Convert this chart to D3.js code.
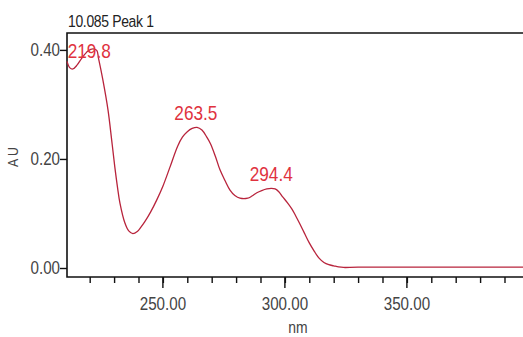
<!DOCTYPE html>
<html>
<head>
<meta charset="utf-8">
<script src="https://cdn.jsdelivr.net/npm/d3@7"></script>
<style>
  body { margin: 0; background: #fff; overflow: hidden; }
  svg { display: block; }
  text { font-family: "Liberation Sans", Arial, sans-serif; }
</style>
</head>
<body>
<svg width="523" height="337"></svg>
<script>
// spectrum (wavelength nm, absorbance AU)
const wavelengths = [210.7, 211.9, 213.1, 214.8, 216.8, 219.3, 221.3, 222.9, 223.6, 225.4, 227.5, 229, 230.3, 231.4, 232.4, 234.4, 236, 237.7, 239.5, 241, 242.6, 245, 247.5, 250, 252.9, 256, 258, 260, 262, 264, 266, 268, 269.5, 271.5, 273.4, 275.5, 277.5, 279.5, 281.6, 284.8, 286.5, 288.5, 290.5, 292.6, 294.4, 296, 297.5, 299, 301, 302.9, 304.5, 306, 308, 310, 312, 314, 316, 318, 320, 322, 324, 330, 400];
const absorbance = [0.379, 0.367, 0.365, 0.372, 0.385, 0.398, 0.402, 0.399, 0.385, 0.345, 0.290, 0.235, 0.185, 0.148, 0.119, 0.083, 0.068, 0.063, 0.067, 0.075, 0.085, 0.103, 0.125, 0.150, 0.185, 0.223, 0.240, 0.250, 0.256, 0.258, 0.253, 0.240, 0.228, 0.205, 0.180, 0.160, 0.143, 0.133, 0.128, 0.128, 0.132, 0.138, 0.142, 0.145, 0.146, 0.145, 0.140, 0.131, 0.120, 0.108, 0.095, 0.082, 0.064, 0.046, 0.031, 0.018, 0.010, 0.006, 0.004, 0.002, 0.001, 0.0015, 0.0015];

// peak annotations
const peakNm = [219.8, 263.5, 294.4];
const peakAu = [0.402, 0.258, 0.146];

// axis ticks
const xMajor = [250, 300, 350];
const xMinor = d3.range(220, 400, 10);
const yMajor = [0, 0.2, 0.4];
const yMinor = [0.05, 0.1, 0.15, 0.25, 0.3, 0.35];

const title = "10.085 Peak 1";
const xTitle = "nm";
const yTitle = "A U";

// no narrow font installed, so squeeze the regular one
const SQUEEZE = 0.82;

function narrow(sel, px, py, rot){
  sel.attr("x", 0).attr("y", 0)
    .attr("transform", (d, i) => `translate(${px(d, i)},${py(d, i)})${rot ? " rotate(" + rot + ")" : ""} scale(${SQUEEZE},1)`);
  return sel;
}

function main(){
  const svg = d3.select("svg");
  const left = 67, top = 33, bottom = 277;

  // x runs past the right edge of the window, like the crop in the original
  const x = d3.scaleLinear().domain([210.7, 400]).range([left, left + 189.3 * 2.44]);
  const y = d3.scaleLinear().domain([-0.0165, 0.431]).range([bottom, top]);

  // frame (top, left, bottom)
  svg.append("path")
    .attr("d", `M${x(400)},${top}H${left}V${bottom}H${x(400)}`)
    .attr("fill", "none").attr("stroke", "#111").attr("stroke-width", 1.6);

  // x axis ticks
  const xg = svg.append("g").attr("transform", `translate(0,${bottom})`);
  xg.call(d3.axisBottom(x).tickValues(xMinor).tickSize(6).tickFormat(""));
  xg.select(".domain").remove();
  xg.selectAll(".tick line").attr("stroke", "#111").attr("stroke-width", 1.4);
  xg.selectAll(".major").data(xMajor).join("line").attr("class", "major")
    .attr("x1", d => x(d)).attr("x2", d => x(d)).attr("y1", 0).attr("y2", 11)
    .attr("stroke", "#111").attr("stroke-width", 1.4);
  xg.selectAll(".lab").data(xMajor).join("text").attr("class", "lab")
    .attr("text-anchor", "middle").attr("font-size", 18.5).attr("fill", "#444")
    .text(d => d.toFixed(2))
    .call(narrow, d => x(d), () => 33);

  // y axis ticks
  const yg = svg.append("g").attr("transform", `translate(${left},0)`);
  yg.call(d3.axisLeft(y).tickValues(yMinor).tickSize(3).tickFormat(""));
  yg.call(d3.axisLeft(y).tickValues(yMajor).tickSize(7).tickFormat(""));
  yg.selectAll(".domain").remove();
  yg.selectAll(".tick line").attr("stroke", "#111").attr("stroke-width", 1.4);
  yg.selectAll(".lab").data(yMajor).join("text").attr("class", "lab")
    .attr("text-anchor", "end").attr("font-size", 18.5).attr("fill", "#444")
    .attr("dy", "0.35em").text(d3.format(".2f"))
    .call(narrow, () => -7, d => y(d));

  // spectrum
  const pts = wavelengths.map((w, i) => [w, absorbance[i]]);
  const line = d3.line().x(d => x(d[0])).y(d => y(d[1])).curve(d3.curveCatmullRom);
  svg.append("path").datum(pts).attr("d", line)
    .attr("fill", "none").attr("stroke", "#b8243c").attr("stroke-width", 1.3);

  // peak labels, kept inside the frame
  svg.selectAll(".peak").data(peakNm).join("text").attr("class", "peak")
    .attr("text-anchor", "middle").attr("font-size", 21).attr("fill", "#e0323e")
    .text(d => d.toFixed(1))
    .call(narrow, d => x(d), (d, i) => Math.max(y(peakAu[i]) - 7, top + 25));

  // titles
  svg.append("text").datum(title).attr("font-size", 17).attr("fill", "#222")
    .attr("letter-spacing", -0.4).text(title)
    .call(narrow, () => 68, () => 27);
  svg.append("text").datum(xTitle).attr("text-anchor", "middle")
    .attr("font-size", 17).attr("fill", "#444").text(xTitle)
    .call(narrow, () => 298, () => 333);
  svg.append("text").datum(yTitle).attr("text-anchor", "middle")
    .attr("font-size", 15).attr("fill", "#444").text(yTitle)
    .call(narrow, () => 18, () => 157, -90);
}

main();
</script>
</body>
</html>
